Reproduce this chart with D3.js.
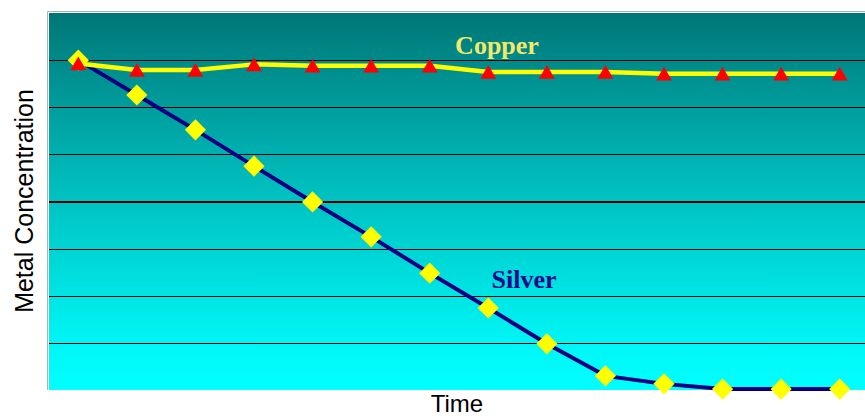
<!DOCTYPE html>
<html>
<head>
<meta charset="utf-8">
<script src="https://cdn.jsdelivr.net/npm/d3@7"></script>
<style>
  html, body { margin: 0; padding: 0; background: #ffffff; }
  svg { display: block; }
</style>
</head>
<body>
<svg id="chart" width="865" height="416"></svg>
<script>
// ---- data ----
const timePoints = [1, 2, 3, 4, 5, 6, 7, 8, 9, 10, 11, 12, 13, 14];
const silverValues = [7.0, 6.26, 5.52, 4.75, 3.99, 3.25, 2.48, 1.74, 0.98, 0.30, 0.13, 0.02, 0.02, 0.02];
const copperValues = [6.93, 6.79, 6.79, 6.91, 6.88, 6.88, 6.88, 6.75, 6.75, 6.75, 6.71, 6.71, 6.71, 6.71];
const gridTicks = [1, 2, 3, 4, 5, 6, 7];
const seriesLabels = ["Copper", "Silver"];
const axisTitles = { x: "Time", y: "Metal Concentration" };

// ---- layout ----
const svg = d3.select("#chart");
const plot = { left: 49, right: 865, top: 13, bottom: 390 };

const x = d3.scaleBand().domain(timePoints).range([49, 869]).paddingInner(0).paddingOuter(0);
const cx = d => x(d) + x.bandwidth() / 2;
const y = d3.scaleLinear().domain([0, 8]).range([plot.bottom, plot.top]);

// gradient background
const defs = svg.append("defs");
const grad = defs.append("linearGradient").attr("id", "bg").attr("x1", 0).attr("y1", 0).attr("x2", 0).attr("y2", 1);
grad.append("stop").attr("offset", "0%").attr("stop-color", "#007676");
grad.append("stop").attr("offset", "45%").attr("stop-color", "#00bcbc");
grad.append("stop").attr("offset", "88%").attr("stop-color", "#00f6f6");
grad.append("stop").attr("offset", "100%").attr("stop-color", "#00ffff");

svg.append("rect")
  .attr("x", plot.left).attr("y", plot.top)
  .attr("width", plot.right - plot.left).attr("height", plot.bottom - plot.top)
  .attr("fill", "url(#bg)");

// frame lines (left & top)
svg.append("path")
  .attr("d", `M${plot.left - 1.5},${plot.bottom} V${plot.top - 1.5} H${plot.right}`)
  .attr("fill", "none").attr("stroke", "#9fb8bc").attr("stroke-width", 1);

// gridlines through axis
const gridAxis = d3.axisLeft(y).tickValues(gridTicks).tickSize(-(plot.right - plot.left)).tickFormat("");
const g = svg.append("g").attr("transform", `translate(${plot.left},0)`).call(gridAxis);
g.select(".domain").remove();
g.selectAll(".tick line").attr("stroke", "#000000").attr("stroke-width", 1.2).attr("shape-rendering", "crispEdges");

// lines
const line = d3.line().x((d, i) => cx(timePoints[i])).y(d => y(d));

svg.append("path").datum(silverValues)
  .attr("d", line).attr("fill", "none")
  .attr("stroke", "#000080").attr("stroke-width", 4).attr("stroke-linejoin", "round");

const diamond = d3.symbol().type(d3.symbolSquare).size(225);
svg.append("g").selectAll("path").data(silverValues).join("path")
  .attr("d", diamond)
  .attr("transform", (d, i) => `translate(${cx(timePoints[i])},${y(d)}) rotate(45)`)
  .attr("fill", "#ffff00");

svg.append("path").datum(copperValues)
  .attr("d", line).attr("fill", "none")
  .attr("stroke", "#ffff00").attr("stroke-width", 4.5).attr("stroke-linejoin", "round");

const tri = d3.symbol().type(d3.symbolTriangle).size(110);
svg.append("g").selectAll("path").data(copperValues).join("path")
  .attr("d", tri)
  .attr("transform", (d, i) => `translate(${cx(timePoints[i])},${y(d) + 2.2})`)
  .attr("fill", "#ff0000");

// series labels
svg.append("text")
  .attr("x", 497).attr("y", 54)
  .attr("text-anchor", "middle")
  .attr("font-family", "'Liberation Serif', 'Times New Roman', serif")
  .attr("font-weight", "bold").attr("font-size", 26)
  .attr("fill", "#f2e86a")
  .text(seriesLabels[0]);

svg.append("text")
  .attr("x", 524).attr("y", 288)
  .attr("text-anchor", "middle")
  .attr("font-family", "'Liberation Serif', 'Times New Roman', serif")
  .attr("font-weight", "bold").attr("font-size", 26)
  .attr("fill", "#0a0a88")
  .text(seriesLabels[1]);

// axis titles
svg.append("text")
  .attr("x", 457).attr("y", 412)
  .attr("text-anchor", "middle")
  .attr("font-family", "'Liberation Sans', Arial, sans-serif")
  .attr("font-size", 24).attr("fill", "#000")
  .text(axisTitles.x);

svg.append("text")
  .attr("transform", "translate(33,201) rotate(-90)")
  .attr("text-anchor", "middle")
  .attr("font-family", "'Liberation Sans', Arial, sans-serif")
  .attr("font-size", 25).attr("fill", "#000")
  .text(axisTitles.y);
</script>
</body>
</html>
